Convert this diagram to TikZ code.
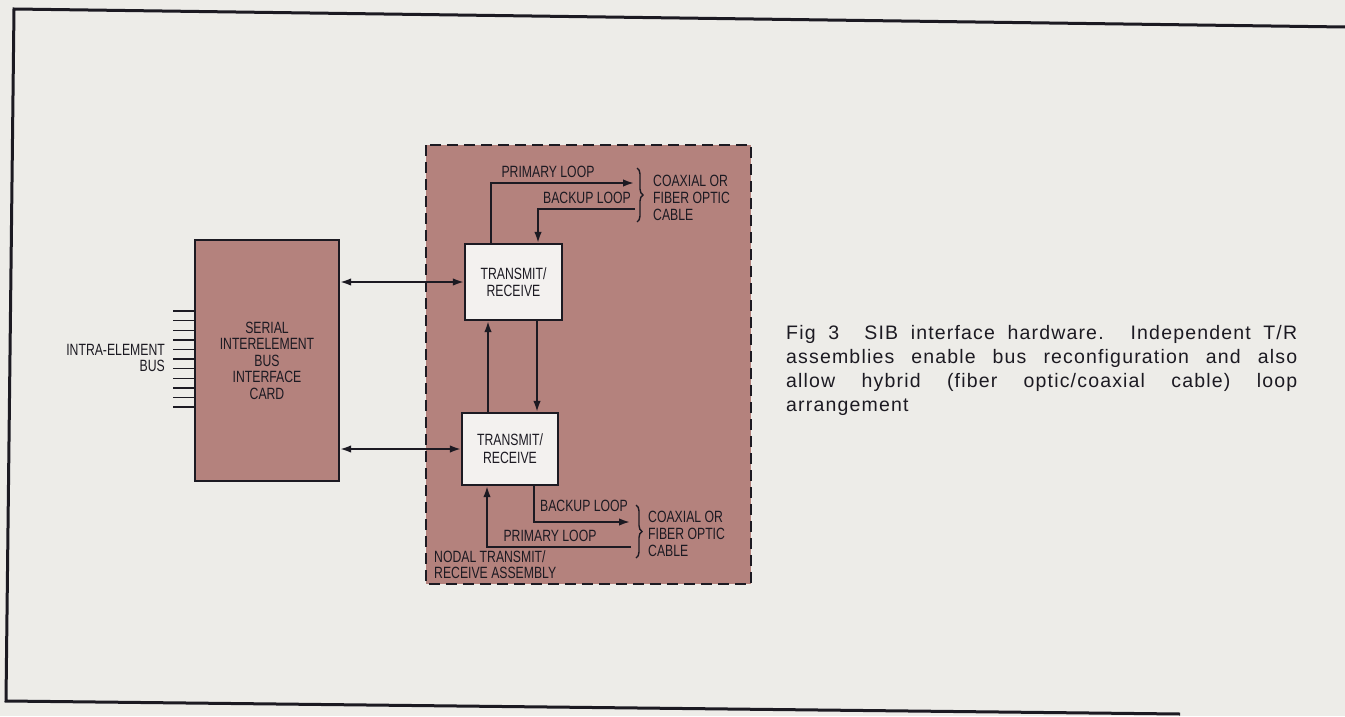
\documentclass[tikz,border=0pt]{standalone}
\usepackage{fontspec}
\setmainfont{Liberation Sans}
\newfontfamily\lblfont[FakeStretch=0.75]{Liberation Sans}
\newfontfamily\capfont[LetterSpace=6]{Liberation Sans}
\usetikzlibrary{arrows.meta,decorations.pathreplacing}
\definecolor{paper}{RGB}{237,236,232}
\definecolor{mauve}{RGB}{180,130,125}
\definecolor{boxwhite}{RGB}{243,241,239}
\definecolor{ink}{RGB}{28,26,34}
\begin{document}
\begin{tikzpicture}[x=1bp,y=-1bp,
  lbl/.style={font=\lblfont\fontsize{16.3bp}{17bp}\selectfont, text=ink, inner sep=0pt},
  conn/.style={draw=ink, line width=1.9bp},
  tip/.style={-{Latex[length=11bp,width=7.5bp]}},
  dtip/.style={{Latex[length=11bp,width=7.5bp]}-{Latex[length=11bp,width=7.5bp]}},
  trbox/.style={lbl, draw=ink, line width=2.2bp, fill=boxwhite, align=center},
  cardbox/.style={lbl, draw=ink, line width=2.2bp, fill=mauve, align=center},
  bracestyle/.style={draw=ink, line width=1.4bp, decorate, decoration={brace, amplitude=6bp}},
  frame/.style={draw=ink, line width=3bp},
  assembly/.style={draw=ink, line width=2.5bp, dash pattern=on 11bp off 6bp, fill=mauve}
]
\useasboundingbox (0,0) rectangle (1345,716);
\fill[paper] (0,0) rectangle (1345,716);
% outer frame
\draw[frame] (1345,27) -- (14,9) -- (6,701) -- (1180,714);
% nodal assembly
\draw[assembly] (426,145) rectangle (751,584);
% card
\node[cardbox, font=\lblfont\fontsize{16.3bp}{16.5bp}\selectfont, minimum width=144bp, minimum height=241bp] (card) at (267,360.5)
  {SERIAL\\INTERELEMENT\\BUS\\INTERFACE\\CARD};
% bus lines
\foreach \i in {0,...,10} {
  \coordinate (b\i) at (173,311+9.6*\i);
  \draw[ink, line width=1.4bp] (b\i) -- (b\i -| card.west);
}
\node[lbl, font=\lblfont\fontsize{16.3bp}{16bp}\selectfont, align=right, anchor=north east] (intra) at (165,344.3) {INTRA-ELEMENT\\BUS};
% transmit/receive
\node[trbox, minimum width=97bp, minimum height=76bp] (tr1) at (513.5,282) {TRANSMIT/\\RECEIVE};
\node[trbox, font=\lblfont\fontsize{16.3bp}{18bp}\selectfont, minimum width=96bp, minimum height=72bp] (tr2) at (510,449) {TRANSMIT/\\RECEIVE};
% card <-> T/R
\draw[conn, dtip] (card.east |- tr1.west) -- (tr1.west);
\draw[conn, dtip] (card.east |- tr2.west) -- (tr2.west);
% between T/R
\coordinate (xup) at (488,0);
\coordinate (xdn) at (537,0);
\draw[conn, tip] (tr2.north -| xup) -- (tr1.south -| xup);
\draw[conn, tip] (tr1.south -| xdn) -- (tr2.north -| xdn);
% top loops
\coordinate (xp1) at (491,0);
\coordinate (xb1) at (538,0);
\coordinate (pt) at (634,183);
\coordinate (bt) at (635,209);
\draw[conn, tip] (tr1.north -| xp1) |- (pt);
\draw[conn, tip] (bt) -| (tr1.north -| xb1);
\node[lbl, anchor=base] (plt) at (548,177) {PRIMARY LOOP};
\node[lbl, anchor=base] (blt) at (587,203) {BACKUP LOOP};
\coordinate (brt1) at (637,168);
\coordinate (brt2) at (637,222);
\draw[bracestyle] (brt1) -- (brt2);
\node[lbl, align=left, anchor=north west] (cabt) at (653,175.3) {COAXIAL OR\\FIBER OPTIC\\CABLE};
% bottom loops
\coordinate (xb2) at (534,0);
\coordinate (xp2) at (487,0);
\coordinate (bb) at (630,522);
\coordinate (pb) at (631,547);
\draw[conn, tip] (tr2.south -| xb2) |- (bb);
\draw[conn, tip] (pb) -| (tr2.south -| xp2);
\node[lbl, anchor=base] (blb) at (584,511) {BACKUP LOOP};
\node[lbl, anchor=base] (plb) at (550,541) {PRIMARY LOOP};
\coordinate (brb1) at (636,505);
\coordinate (brb2) at (636,558);
\draw[bracestyle] (brb1) -- (brb2);
\node[lbl, align=left, anchor=north west] (cabb) at (648,511.3) {COAXIAL OR\\FIBER OPTIC\\CABLE};
\node[lbl, font=\lblfont\fontsize{16.3bp}{16bp}\selectfont, align=left, anchor=north west] (nodal) at (434,550.3) {NODAL TRANSMIT/\\RECEIVE ASSEMBLY};
% caption
\node[anchor=base west, inner sep=0pt, text=ink] (cap) at (786,339) {\parbox[t]{511bp}{\capfont\fontsize{19.5bp}{24bp}\selectfont
\makebox[511bp][s]{Fig 3\ \ SIB interface hardware. Independent T/R}\\
\makebox[511bp][s]{assemblies enable bus reconfiguration and also}\\
\makebox[511bp][s]{allow hybrid (fiber optic/coaxial cable) loop}\\
arrangement}};
\end{tikzpicture}
\end{document}
